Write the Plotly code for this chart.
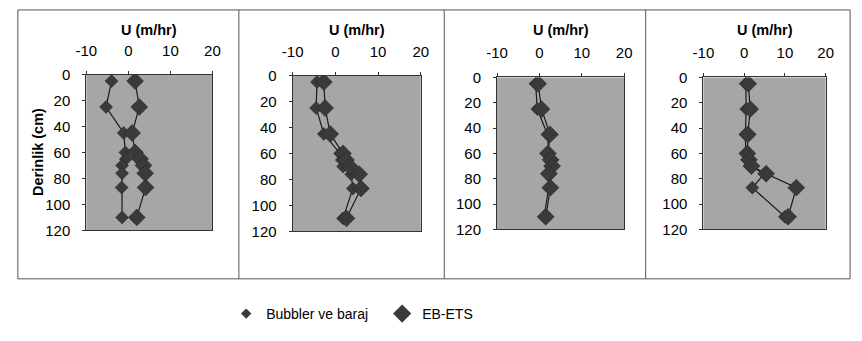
import plotly.graph_objects as go

W, H = 862, 341

depth = [5, 25, 45, 60, 65, 70, 76, 87, 110]

p1_bubbler = [-4.0, -5.3, -1.1, -0.7, -0.6, -1.5, -1.5, -1.6, -1.5]
p1_ebets   = [1.6, 2.6, 0.9, 1.6, 2.8, 3.6, 4.0, 4.1, 2.0]
p2_bubbler = [-4.3, -4.5, -2.7, 1.1, 1.5, 1.8, 3.7, 4.1, 1.8]
p2_ebets   = [-2.7, -2.4, -1.2, 1.8, 2.5, 3.4, 5.6, 6.0, 2.6]
p3_bubbler = [-0.9, -0.5, 1.9, 2.2, 3.0, 2.6, 2.6, 2.2, 1.1]
p3_ebets   = [-0.3, 0.5, 2.5, 2.0, 2.6, 3.0, 2.2, 2.6, 1.5]
p4_bubbler = [0.4, 0.5, 0.3, 0.4, 0.8, 1.4, 5.0, 2.0, 10.0]
p4_ebets   = [1.0, 1.5, 0.9, 0.8, 1.2, 1.8, 5.4, 12.8, 10.8]

series_names = ["Bubbler ve baraj", "EB-ETS"]
x_ticks = [-10, 0, 10, 20]
x_tick_labels = ["-10", "0", "10", "20"]
y_ticks = [0, 20, 40, 60, 80, 100, 120]
x_title = "U (m/hr)"
y_title = "Derinlik (cm)"

panels = [(p1_bubbler, p1_ebets), (p2_bubbler, p2_ebets),
          (p3_bubbler, p3_ebets), (p4_bubbler, p4_ebets)]

# plot-area pixel boxes (x0, x1, ytop, ybottom)
areas = [(77, 206, 69, 233), (288, 419, 70, 234), (497, 627, 72, 232), (708, 833, 72, 232)]

def px(x):
    return x / W

def py(y):
    return 1 - y / H

fig = go.Figure()
FONT = "Liberation Sans, Arial, sans-serif"
mcol = "#3a3a3a"
sizes = [10, 13]

for i, (sa, sb) in enumerate(panels):
    n = "" if i == 0 else str(i + 1)
    for j, vals in enumerate((sa, sb)):
        fig.add_trace(go.Scatter(
            x=vals, y=depth, mode="lines+markers",
            xaxis="x" + n, yaxis="y" + n, showlegend=False,
            line=dict(color="#1a1a1a", width=1.2),
            marker=dict(symbol="diamond", size=sizes[j], color=mcol,
                        line=dict(color="#222", width=0.5)),
        ))
    x0, x1, yt, yb = areas[i]
    common = dict(showline=True, linecolor="#333", linewidth=1, mirror=True,
                  showgrid=False, zeroline=False, ticks="outside", ticklen=3,
                  tickcolor="#333", tickfont=dict(family=FONT, size=15, color="black"))
    fig.layout["xaxis" + n] = dict(domain=[px(x0), px(x1)], range=[-10, 20],
                                   tickvals=x_ticks, ticktext=x_tick_labels,
                                   side="top", ticklabelstandoff=9,
                                   anchor="y" + n, **common)
    fig.layout["yaxis" + n] = dict(domain=[py(yb), py(yt)], range=[120, 0],
                                   tickvals=y_ticks, anchor="x" + n, ticklabelstandoff=9,
                                   **common)
    fig.add_shape(type="rect", xref="x" + n + " domain", yref="y" + n + " domain",
                  x0=0, x1=1, y0=0, y1=1, fillcolor="#a6a6a6", line=dict(width=0),
                  layer="below")
    fig.add_annotation(x=(px(x0) + px(x1)) / 2, y=py(22), xref="paper", yref="paper",
                       xanchor="center", yanchor="middle",
                       text="<b>" + x_title + "</b>", showarrow=False,
                       font=dict(family=FONT, size=14.5, color="black"))

fig.add_annotation(x=px(27), y=py(150), xref="paper", yref="paper",
                   xanchor="center", yanchor="middle",
                   text="<b>" + y_title + "</b>", showarrow=False, textangle=-90,
                   font=dict(family=FONT, size=14.5, color="black"))

# legend-only traces
for j, name in enumerate(series_names):
    fig.add_trace(go.Scatter(x=[None], y=[None], mode="markers", name=name,
                             marker=dict(symbol="diamond", size=[8, 14][j], color=mcol),
                             showlegend=True))

# panel frames
fig.add_shape(type="rect", xref="paper", yref="paper", x0=px(7), x1=px(858),
              y0=py(284), y1=py(1), line=dict(color="#555", width=1))
for xd in (233, 443, 649):
    fig.add_shape(type="line", xref="paper", yref="paper", x0=px(xd), x1=px(xd),
                  y0=py(284), y1=py(1), line=dict(color="#555", width=1))

fig.update_layout(
    width=W, height=H, margin=dict(l=0, r=0, t=0, b=0),
    paper_bgcolor="white", plot_bgcolor="white",
    legend=dict(orientation="h", x=px(220), y=py(321), xanchor="left", yanchor="middle",
                font=dict(family=FONT, size=14, color="black"), itemwidth=30,
                entrywidth=111, entrywidthmode="pixels",
                bgcolor="rgba(0,0,0,0)"),
)

fig.write_html("out.html")
